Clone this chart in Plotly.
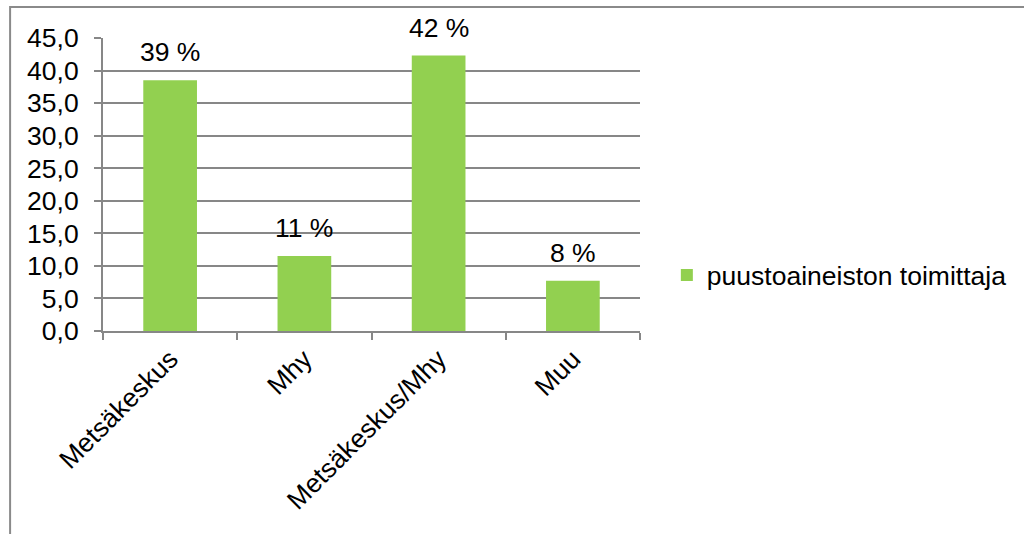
import plotly.graph_objects as go

categories = ["Metsäkeskus", "Mhy", "Metsäkeskus/Mhy", "Muu"]
values = [38.5, 11.5, 42.3, 7.7]
labels = ["39 %", "11 %", "42 %", "8 %"]
series_name = "puustoaineiston toimittaja"
y_ticks = [0, 5, 10, 15, 20, 25, 30, 35, 40, 45]

FONT = "Liberation Sans, Arial, sans-serif"
FS = 26.5
GREEN = "#92D050"
GRAY = "#878787"

fig = go.Figure()
fig.add_trace(go.Bar(
    x=categories, y=values, name=series_name,
    marker=dict(color=GREEN, line=dict(width=0)),
    showlegend=True,
))

annotations = [
    dict(x=c, y=v, xref="x", yref="y", text=t, showarrow=False,
         yanchor="bottom", yshift=11, font=dict(family=FONT, size=FS, color="black"))
    for c, v, t in zip(categories, values, labels)
]

fig.update_layout(
    width=1024, height=534,
    margin=dict(l=103, r=384, t=38, b=203),
    paper_bgcolor="white", plot_bgcolor="white",
    separators=", ",
    bargap=0.6,
    font=dict(family=FONT, size=FS, color="black"),
    showlegend=True,
    legend=dict(x=1.05, y=0.19, xanchor="left", yanchor="middle",
                font=dict(family=FONT, size=FS, color="black"),
                itemwidth=30, bgcolor="rgba(0,0,0,0)"),
    annotations=annotations,
    xaxis=dict(
        type="category", tickangle=-45, showline=True, linecolor=GRAY, linewidth=2,
        ticks="outside", tickson="boundaries", ticklen=7, tickcolor=GRAY, tickwidth=2,
        showgrid=False, tickfont=dict(family=FONT, size=FS, color="black"),
    ),
    yaxis=dict(
        range=[0, 45], tickvals=y_ticks, tickformat=".1f",
        showline=True, linecolor=GRAY, linewidth=2,
        ticks="outside", ticklen=7, tickcolor=GRAY, tickwidth=2,
        ticklabelstandoff=10,
        showgrid=True, gridcolor=GRAY, gridwidth=2, zeroline=False,
        tickfont=dict(family=FONT, size=FS, color="black"),
    ),
    shapes=[dict(type="rect", xref="paper", yref="paper",
                 x0=-0.173, x1=2.0, y0=-1.0, y1=1.106,
                 line=dict(color="#8A8A8A", width=2), fillcolor="rgba(0,0,0,0)", layer="below")],
)

fig.write_html("out.html")
